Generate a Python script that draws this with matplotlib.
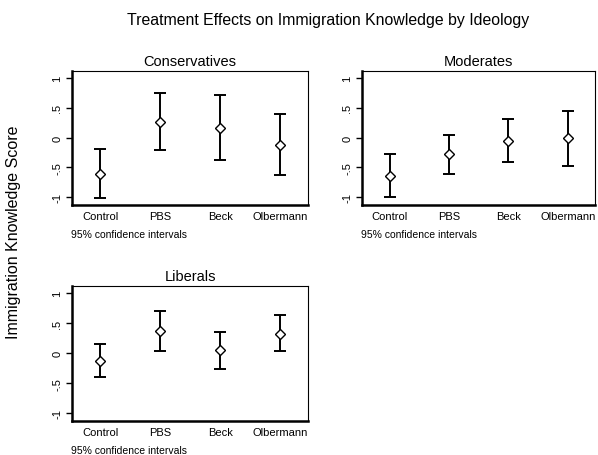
import matplotlib
matplotlib.use("Agg")
import matplotlib.pyplot as plt

plt.rcParams['font.family'] = ['Liberation Sans', 'DejaVu Sans']

treatments = ["Control", "PBS", "Beck", "Olbermann"]
groups = ["Conservatives", "Moderates", "Liberals"]

# point estimates and 95% CI bounds
est = {
    "Conservatives": [-0.61, 0.27, 0.17, -0.13],
    "Moderates":     [-0.65, -0.27, -0.05, 0.00],
    "Liberals":      [-0.13, 0.37, 0.06, 0.32],
}
lower = {
    "Conservatives": [-1.02, -0.21, -0.38, -0.63],
    "Moderates":     [-1.00, -0.61, -0.40, -0.47],
    "Liberals":      [-0.40, 0.03, -0.26, 0.03],
}
upper = {
    "Conservatives": [-0.19, 0.75, 0.72, 0.40],
    "Moderates":     [-0.28, 0.04, 0.31, 0.45],
    "Liberals":      [0.16, 0.71, 0.35, 0.64],
}

yticks = [-1, -0.5, 0, 0.5, 1]
yticklabels = ["-1", "-.5", "0", ".5", "1"]

W, H = 598, 456
fig = plt.figure(figsize=(W / 100, H / 100), dpi=100)

# panel boxes in pixels: left, top, right, bottom
boxes = {
    "Conservatives": (72, 72, 308, 206),
    "Moderates": (362, 72, 595, 206),
    "Liberals": (72, 287, 308, 422),
}

xs = list(range(1, len(treatments) + 1))
for g in groups:
    l, t, r, b = boxes[g]
    ax = fig.add_axes([l / W, 1 - b / H, (r - l) / W, (b - t) / H])
    e = est[g]
    yerr = [[e[i] - lower[g][i] for i in range(4)],
            [upper[g][i] - e[i] for i in range(4)]]
    ax.errorbar(xs, e, yerr=yerr, fmt='none', ecolor='black',
                elinewidth=1.4, capsize=4, capthick=1.4)
    ax.plot(xs, e, linestyle='none', marker='D', markersize=5,
            markerfacecolor='white', markeredgecolor='black', markeredgewidth=1.0)
    ax.set_xlim(0.53, 4.46)
    ax.set_ylim(-1.13, 1.12)
    ax.set_yticks(yticks)
    ax.set_yticklabels(yticklabels, rotation=90, va='center', fontsize=8)
    ax.set_xticks(xs)
    ax.set_xticklabels(treatments, fontsize=8)
    ax.tick_params(axis='x', length=0, pad=4)
    ax.tick_params(axis='y', length=4, width=1, pad=3)
    for s in ['left', 'bottom']:
        ax.spines[s].set_linewidth(1.8)
    for s in ['top', 'right']:
        ax.spines[s].set_linewidth(0.8)
    ax.set_title(g, fontsize=10.5, pad=4)
    fig.text(l / W - 0.002, 1 - (b + 29) / H, "95% confidence intervals",
             fontsize=7.5, ha='left', va='center')

fig.text(0.548, 1 - 20 / H, "Treatment Effects on Immigration Knowledge by Ideology",
         fontsize=11.4, ha='center', va='center')
fig.text(14 / W, 1 - 232 / H, "Immigration Knowledge Score", fontsize=11.5,
         rotation=90, ha='center', va='center')

fig.savefig("out.png", dpi=100, facecolor='white')
